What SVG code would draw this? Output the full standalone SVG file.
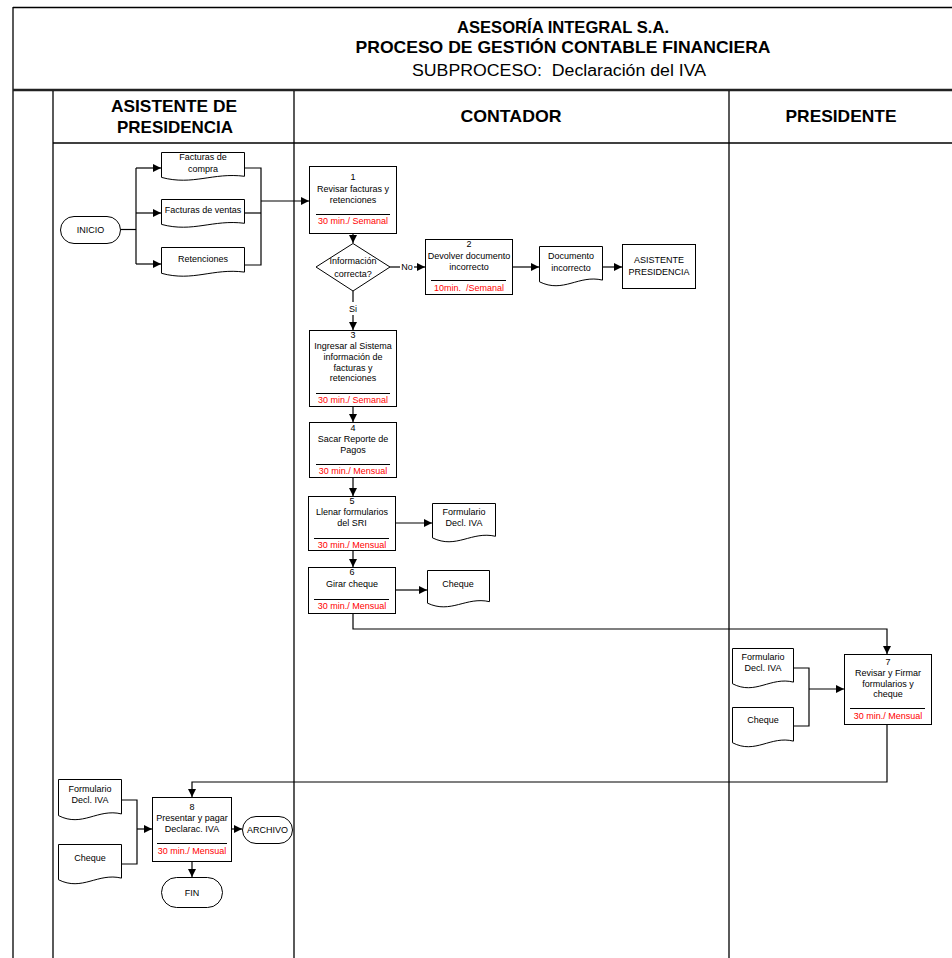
<svg xmlns="http://www.w3.org/2000/svg" width="952" height="958" viewBox="0 0 952 958">
  <defs>
    <marker id="ah" viewBox="0 0 10 10" refX="10" refY="5" markerWidth="9" markerHeight="8" orient="auto" markerUnits="userSpaceOnUse">
      <path d="M0,0 L10,5 L0,10 z" fill="#000"/>
    </marker>
    <style>
      text { font-family: "Liberation Sans", Arial, sans-serif; fill: #000; }
      .t { font-size: 9px; text-anchor: middle; }
      .r { font-size: 9px; text-anchor: middle; fill: #ff0000; white-space: pre; }
      .ttl { font-size: 17px; font-weight: bold; text-anchor: middle; }
      .sub { font-size: 16px; text-anchor: middle; white-space: pre; }
      .lane { font-size: 17px; font-weight: bold; text-anchor: middle; }
      .box { fill: #fff; stroke: #000; stroke-width: 1; }
      .sep { stroke: #000; stroke-width: 1; }
      .frame { stroke: #000; stroke-width: 1.3; fill: none; }
      .c { fill: none; stroke: #000; stroke-width: 1.2; }
      .ca { fill: none; stroke: #000; stroke-width: 1.2; marker-end: url(#ah); }
    </style>
  </defs>

  <rect width="952" height="958" fill="#fff"/>

  <!-- frame and swimlanes -->
  <g id="frame">
    <line class="frame" x1="13" y1="7.5" x2="952" y2="7.5"/>
    <line class="frame" x1="13" y1="7" x2="13" y2="958"/>
    <line x1="13" y1="90" x2="952" y2="90" stroke="#222" stroke-width="2.5"/>
    <line class="frame" x1="53" y1="91" x2="53" y2="958"/>
    <line class="frame" x1="294" y1="91" x2="294" y2="958"/>
    <line class="frame" x1="729" y1="91" x2="729" y2="958"/>
    <line class="frame" x1="53" y1="143" x2="952" y2="143"/>
  </g>

  <g id="title">
    <text class="ttl" x="563" y="33" textLength="212" lengthAdjust="spacingAndGlyphs">ASESORÍA INTEGRAL S.A.</text>
    <text class="ttl" x="563" y="53" textLength="415" lengthAdjust="spacingAndGlyphs">PROCESO DE GESTIÓN CONTABLE FINANCIERA</text>
    <text class="sub" x="559" y="76" textLength="294" lengthAdjust="spacingAndGlyphs">SUBPROCESO:  Declaración del IVA</text>
  </g>

  <g id="lane-headers">
    <text class="lane" x="174" y="112" textLength="126" lengthAdjust="spacingAndGlyphs">ASISTENTE DE</text>
    <text class="lane" x="175" y="133" textLength="116" lengthAdjust="spacingAndGlyphs">PRESIDENCIA</text>
    <text class="lane" x="511" y="122" textLength="101" lengthAdjust="spacingAndGlyphs">CONTADOR</text>
    <text class="lane" x="841" y="122" textLength="111" lengthAdjust="spacingAndGlyphs">PRESIDENTE</text>
  </g>

  <!-- connectors -->
  <g id="connectors">
    <path class="c" d="M121,229.5 H136" stroke-width="2"/>
    <path class="c" d="M136,168 V264"/>
    <path class="ca" d="M136,168 H161"/>
    <path class="ca" d="M136,213 H161"/>
    <path class="ca" d="M136,264 H161"/>
    <path class="c" d="M244,168 H261 V265 H244"/>
    <path class="c" d="M244,213 H261"/>
    <path class="ca" d="M261,201 H309"/>
    <path class="ca" d="M353,233 V243"/>
    <path class="c" d="M390,267 H400"/>
    <path class="ca" d="M414,267 H425"/>
    <path class="ca" d="M512,267 H539"/>
    <path class="ca" d="M602,267 H622"/>
    <path class="c" d="M353,291 V302"/>
    <path class="ca" d="M353,315 V330"/>
    <path class="ca" d="M353,406 V422"/>
    <path class="ca" d="M353,477 V496"/>
    <path class="ca" d="M396,523 H432"/>
    <path class="ca" d="M353,550 V567"/>
    <path class="ca" d="M396,590 H427"/>
    <path class="ca" d="M353,613 V629 H887 V654"/>
    <path class="c" d="M793,668 H809 V726 H793"/>
    <path class="ca" d="M809,689 H844"/>
    <path class="ca" d="M887,724 V782 H192 V797"/>
    <path class="c" d="M121,800 H137 V864 H121"/>
    <path class="ca" d="M137,829 H152"/>
    <path class="ca" d="M231,829 H242"/>
    <path class="ca" d="M192,861 V877"/>
    <text class="t" x="407" y="270">No</text>
    <text class="t" x="353" y="312">Si</text>
  </g>

  <!-- Asistente de Presidencia -->
  <g id="inicio">
    <rect class="box" x="60.5" y="216.5" width="60" height="27" rx="13.5"/>
    <text class="t" x="90.5" y="233">INICIO</text>
  </g>
  <g id="doc-facturas-compra">
    <path class="box" d="M161.5,152.5 H244.5 V176.3 C212.96,172.2 193.04,185.85 161.5,177.4 Z"/>
    <text class="t" x="203" y="160">Facturas de</text>
    <text class="t" x="203" y="172">compra</text>
  </g>
  <g id="doc-facturas-ventas">
    <path class="box" d="M161.5,199.5 H244.5 V223.3 C212.96,219.2 193.04,232.85 161.5,224.4 Z"/>
    <text class="t" x="203" y="213">Facturas de ventas</text>
  </g>
  <g id="doc-retenciones">
    <path class="box" d="M161.5,247.5 H244.5 V272.1 C212.96,267.9 193.04,282 161.5,273.3 Z"/>
    <text class="t" x="203" y="262">Retenciones</text>
  </g>

  <!-- Contador -->
  <g id="paso-1">
    <rect class="box" x="309.5" y="166.5" width="87" height="67"/>
    <text class="t" x="353" y="180">1</text>
    <text class="t" x="353" y="192">Revisar facturas y</text>
    <text class="t" x="353" y="203">retenciones</text>
    <line class="sep" x1="316" y1="214.5" x2="390" y2="214.5"/>
    <text class="r" x="353" y="224">30 min./ Semanal</text>
  </g>
  <g id="decision">
    <path class="box" d="M353,243.5 L390,267 L353,291 L316,267 Z"/>
    <text class="t" x="353" y="264">Información</text>
    <text class="t" x="353" y="277">correcta?</text>
  </g>
  <g id="paso-2">
    <rect class="box" x="425.5" y="239.5" width="87" height="55"/>
    <text class="t" x="469" y="247">2</text>
    <text class="t" x="469" y="259">Devolver documento</text>
    <text class="t" x="469" y="270">incorrecto</text>
    <line class="sep" x1="431" y1="280.5" x2="506" y2="280.5"/>
    <text class="r" x="469" y="291">10min.  /Semanal</text>
  </g>
  <g id="doc-documento-incorrecto">
    <path class="box" d="M539.5,246.5 H602.5 V280.1 C578.56,274.4 563.44,293.65 539.5,281.8 Z"/>
    <text class="t" x="571" y="259">Documento</text>
    <text class="t" x="571" y="271">incorrecto</text>
  </g>
  <g id="asistente-presidencia">
    <rect class="box" x="622.5" y="244.5" width="73" height="44"/>
    <text class="t" x="659" y="263">ASISTENTE</text>
    <text class="t" x="659" y="275">PRESIDENCIA</text>
  </g>
  <g id="paso-3">
    <rect class="box" x="309.5" y="330.5" width="87" height="76"/>
    <text class="t" x="353" y="338">3</text>
    <text class="t" x="353" y="349">Ingresar al Sistema</text>
    <text class="t" x="353" y="360">información de</text>
    <text class="t" x="353" y="371">facturas y</text>
    <text class="t" x="353" y="381">retenciones</text>
    <line class="sep" x1="316" y1="393.5" x2="390" y2="393.5"/>
    <text class="r" x="353" y="403">30 min./ Semanal</text>
  </g>
  <g id="paso-4">
    <rect class="box" x="309.5" y="422.5" width="87" height="55"/>
    <text class="t" x="353" y="431">4</text>
    <text class="t" x="353" y="442">Sacar Reporte de</text>
    <text class="t" x="353" y="453">Pagos</text>
    <line class="sep" x1="316" y1="464.5" x2="390" y2="464.5"/>
    <text class="r" x="353" y="474">30 min./ Mensual</text>
  </g>
  <g id="paso-5">
    <rect class="box" x="308.5" y="496.5" width="87" height="54"/>
    <text class="t" x="352" y="504">5</text>
    <text class="t" x="352" y="515">Llenar formularios</text>
    <text class="t" x="352" y="526">del SRI</text>
    <line class="sep" x1="314" y1="538.5" x2="389" y2="538.5"/>
    <text class="r" x="352" y="548">30 min./ Mensual</text>
  </g>
  <g id="doc-formulario-contador">
    <path class="box" d="M432.5,503.5 H495.5 V536.3 C471.56,530.7 456.44,549.5 432.5,537.9 Z"/>
    <text class="t" x="464" y="515">Formulario</text>
    <text class="t" x="464" y="526">Decl. IVA</text>
  </g>
  <g id="paso-6">
    <rect class="box" x="308.5" y="567.5" width="87" height="46"/>
    <text class="t" x="352" y="575">6</text>
    <text class="t" x="352" y="587">Girar cheque</text>
    <line class="sep" x1="314" y1="599.5" x2="389" y2="599.5"/>
    <text class="r" x="352" y="609">30 min./ Mensual</text>
  </g>
  <g id="doc-cheque-contador">
    <path class="box" d="M427.5,570.5 H489.5 V601.66 C465.94,596.34 451.06,614.2 427.5,603.18 Z"/>
    <text class="t" x="458" y="587">Cheque</text>
  </g>

  <!-- Presidente -->
  <g id="doc-formulario-presidente">
    <path class="box" d="M732.5,648.5 H793.5 V682.12 C770.32,676.38 755.68,695.65 732.5,683.76 Z"/>
    <text class="t" x="763" y="660">Formulario</text>
    <text class="t" x="763" y="671">Decl. IVA</text>
  </g>
  <g id="doc-cheque-presidente">
    <path class="box" d="M732.5,707.5 H793.5 V741.12 C770.32,735.38 755.68,754.65 732.5,742.76 Z"/>
    <text class="t" x="763" y="723">Cheque</text>
  </g>
  <g id="paso-7">
    <rect class="box" x="844.5" y="654.5" width="87" height="70"/>
    <text class="t" x="888" y="665">7</text>
    <text class="t" x="888" y="676">Revisar y Firmar</text>
    <text class="t" x="888" y="687">formularios y</text>
    <text class="t" x="888" y="697">cheque</text>
    <line class="sep" x1="850" y1="708.5" x2="925" y2="708.5"/>
    <text class="r" x="888" y="719">30 min./ Mensual</text>
  </g>

  <!-- Asistente de Presidencia: cierre -->
  <g id="doc-formulario-asistente">
    <path class="box" d="M58.5,779.5 H121.5 V813.94 C97.56,808.06 82.44,827.8 58.5,815.62 Z"/>
    <text class="t" x="90" y="792">Formulario</text>
    <text class="t" x="90" y="803">Decl. IVA</text>
  </g>
  <g id="doc-cheque-asistente">
    <path class="box" d="M58.5,844.5 H121.5 V878.12 C97.56,872.38 82.44,891.65 58.5,879.76 Z"/>
    <text class="t" x="90" y="861">Cheque</text>
  </g>
  <g id="paso-8">
    <rect class="box" x="152.5" y="797.5" width="79" height="64"/>
    <text class="t" x="192" y="810">8</text>
    <text class="t" x="192" y="821">Presentar y pagar</text>
    <text class="t" x="192" y="832">Declarac. IVA</text>
    <line class="sep" x1="157" y1="843.5" x2="227" y2="843.5"/>
    <text class="r" x="192" y="854">30 min./ Mensual</text>
  </g>
  <g id="archivo">
    <rect class="box" x="242.5" y="816.5" width="50" height="27" rx="13.5"/>
    <text class="t" x="267.5" y="833">ARCHIVO</text>
  </g>
  <g id="fin">
    <rect class="box" x="161.5" y="877.5" width="61" height="30" rx="15"/>
    <text class="t" x="192" y="896">FIN</text>
  </g>
</svg>
